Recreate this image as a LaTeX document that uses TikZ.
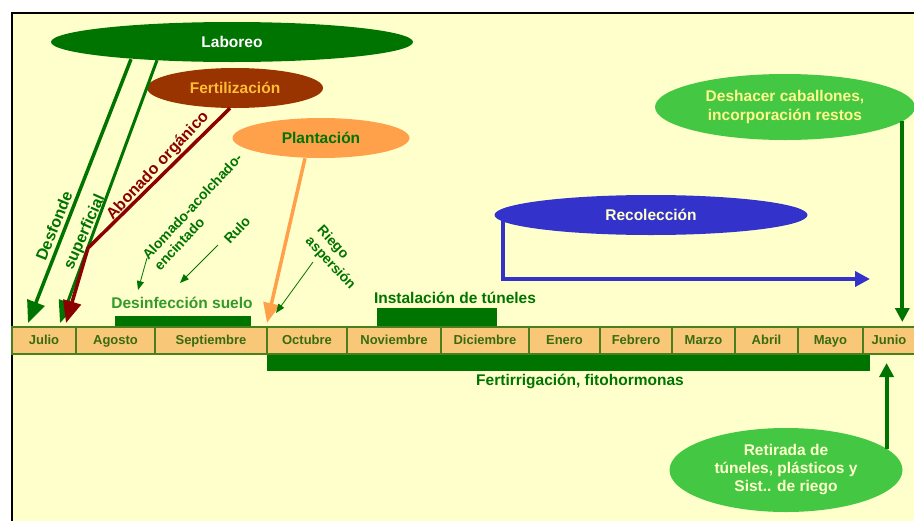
\documentclass[tikz,border=0pt]{standalone}
\usepackage{fontspec}
\setmainfont{Liberation Sans}
\usetikzlibrary{arrows.meta, positioning, calc, shapes.geometric}

\definecolor{crema}{HTML}{FFFFCC}
\definecolor{fondomes}{HTML}{F8C878}
\definecolor{bordemes}{HTML}{4B7F1E}
\definecolor{textomes}{HTML}{3A6B10}
\definecolor{verdeosc}{HTML}{007400}
\definecolor{verdemed}{HTML}{33992A}
\definecolor{verdeclaro}{HTML}{44C844}
\definecolor{marron}{HTML}{993300}
\definecolor{rojoosc}{HTML}{8B0000}
\definecolor{naranja}{HTML}{FFA04A}
\definecolor{azul}{HTML}{3333CC}

\begin{document}
\begin{tikzpicture}[x=1pt, y=-1pt,
    every node/.style={font=\bfseries},
    mes/.style={draw=bordemes, line width=1.5pt, fill=fondomes, text=textomes,
      minimum height=27pt, inner sep=0pt, outer sep=0pt,
      text height=9.5pt, text depth=2.5pt,
      font=\fontsize{13}{15}\bfseries},
    tarea/.style={ellipse, inner sep=0pt, align=center,
      font=\fontsize{15.5}{19}\bfseries},
    barra/.style={fill=verdeosc},
    etiqueta/.style={anchor=base, font=\fontsize{15.5}{19}\bfseries},
    girado/.style={font=\fontsize{16}{19}\bfseries},
    nota/.style={text=verdeosc, align=left, font=\fontsize{14}{16}\bfseries},
    gruesa/.style={line width=3.5pt, -{Triangle[length=22pt,width=18pt]}},
    media/.style={line width=4pt, -{Triangle[length=15pt,width=15pt]}},
    fina/.style={draw=verdeosc, line width=0.8pt, -{Triangle[length=9pt,width=7pt]}}]

  \clip (0,0) rectangle (914,520);
  \fill[crema] (12,13) rectangle (930,530);
  \draw[line width=2pt] (12,530) -- (12,13) -- (930,13);

  % barras de tareas
  \fill[barra] (115,316) rectangle (251,327);
  \fill[barra] (377,308) rectangle (497,327);
  \fill[barra] (267,354) rectangle (870,371);

  % meses
  \node[mes, minimum width=64pt, anchor=north west] (jul) at (12,327) {Julio};
  \node[mes, minimum width=79pt, right=0pt of jul] (ago) {Agosto};
  \node[mes, minimum width=112pt, right=0pt of ago] (sep) {Septiembre};
  \node[mes, minimum width=80pt, right=0pt of sep] (oct) {Octubre};
  \node[mes, minimum width=94pt, right=0pt of oct] (nov) {Noviembre};
  \node[mes, minimum width=88pt, right=0pt of nov] (dic) {Diciembre};
  \node[mes, minimum width=71pt, right=0pt of dic] (ene) {Enero};
  \node[mes, minimum width=72pt, right=0pt of ene] (feb) {Febrero};
  \node[mes, minimum width=63pt, right=0pt of feb] (mar) {Marzo};
  \node[mes, minimum width=63pt, right=0pt of mar] (abr) {Abril};
  \node[mes, minimum width=65pt, right=0pt of abr] (may) {Mayo};
  \node[mes, minimum width=52pt, right=0pt of may] (jun) {Junio};

  \node[etiqueta, text=verdemed] (desinf) at (182,308) {Desinfección suelo};
  \node[etiqueta, text=verdeosc] (tuneles) at (455,303) {Instalación de túneles};
  \node[etiqueta, text=verdeosc] (fertirrig) at (580,385) {Fertirrigación, fitohormonas};

  % tareas
  \node[tarea, fill=verdeosc, text=white, minimum width=362pt, minimum height=40pt] (laboreo) at (232,42) {Laboreo};
  \node[tarea, fill=marron, text=naranja!70!yellow, minimum width=176pt, minimum height=40pt] (fertiliz) at (235,88) {Fertilización};
  \node[tarea, fill=naranja, text=verdeosc, minimum width=177pt, minimum height=40pt] (plantacion) at (321,138) {Plantación};
  \node[tarea, fill=azul, text=crema, minimum width=313pt, minimum height=40pt] (recoleccion) at (651,215) {Recolección};
  \node[tarea, fill=verdeclaro, text=yellow!45!white, minimum width=260pt, minimum height=66pt] (deshacer) at (785,107) {Deshacer caballones,\\incorporación restos};
  \node[tarea, fill=verdeclaro, text=crema, minimum width=233pt, minimum height=84pt, font=\fontsize{15.5}{18}\bfseries] (retirada) at (786,470) {Retirada de\\túneles, plásticos y\\Sist.. de riego};

  % flechas gruesas
  \draw[gruesa, verdeosc] ($(laboreo.south)+(-101,-3)$) -- ($(jul.north west)+(16,-4)$);
  \draw[gruesa, verdeosc, line width=3pt] ($(laboreo.south)+(-75,-2)$) -- ($(jul.north west)+(48,-4)$);
  \draw[gruesa, rojoosc] ($(fertiliz.south)+(-5,0)$) -- (88,248) -- ($(jul.north west)+(54,-4)$);
  \draw[gruesa, naranja, -{Triangle[length=20pt,width=16pt]}] ($(plantacion.south)+(-16,0)$) -- ($(oct.north west)+(0,-4)$);
  \coordinate (recfin) at (870,279);
  \draw[media, azul] ($(recoleccion.west)+(9,0)$) |- (recfin);
  \draw[media, verdeosc, -{Triangle[length=14pt,width=14pt]}, shorten >=5pt] (deshacer.353) -- (deshacer.353 |- jun.north);
  \draw[media, verdeosc, -{Triangle[length=14pt,width=14pt]}, shorten >=9pt] (retirada.12) -- (retirada.12 |- jun.south);

  % textos girados
  \node[girado, rotate=68, text=verdeosc] (desfonde) at (54,226) {Desfonde};
  \node[girado, rotate=66, text=verdeosc] (superf) at (85,232) {superficial};
  \node[girado, rotate=47, text=rojoosc] (abonado) at (158,166) {Abonado orgánico};
  \node[nota, rotate=47] (alomado) at (198,212) {Alomado-acolchado-\\encintado};
  \node[nota, rotate=47] (rulo) at (237,230) {Rulo};
  \node[nota, rotate=-47] (riego) at (336,258) {Riego\\aspersión};

  % flechas finas
  \coordinate (aloini) at (147,258);
  \coordinate (alofin) at (138,290);
  \coordinate (ruloini) at (218,245);
  \coordinate (rulofin) at (180,283);
  \coordinate (riegoini) at (313,262);
  \coordinate (riegofin) at (276,313);
  \draw[fina] (aloini) -- (alofin);
  \draw[fina] (ruloini) -- (rulofin);
  \draw[fina] (riegoini) -- (riegofin);
\end{tikzpicture}
\end{document}
